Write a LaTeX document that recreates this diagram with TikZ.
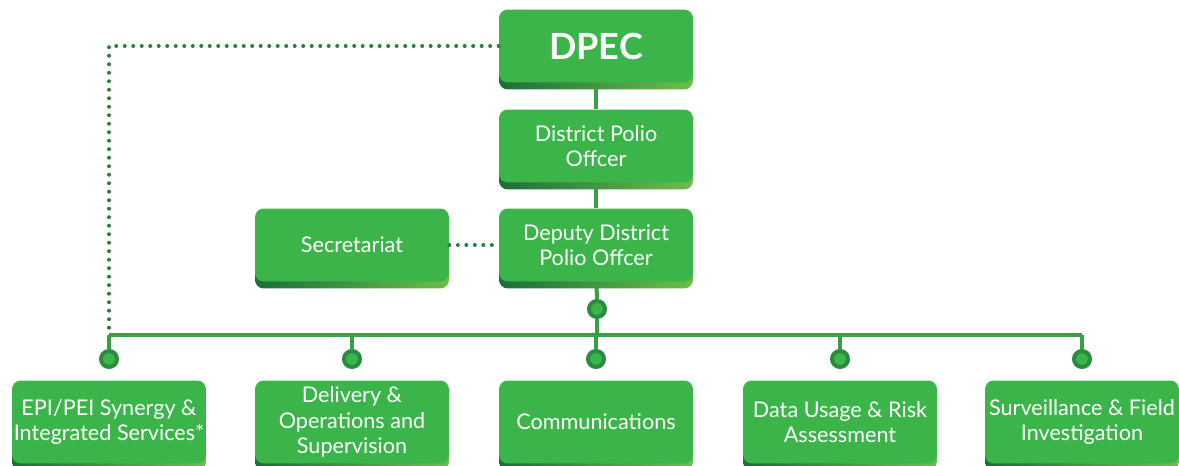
\documentclass[tikz,border=0pt]{standalone}
\usepackage{fontspec}
\setmainfont{Lato}
\usetikzlibrary{backgrounds,shadows}

\definecolor{boxgreen}{HTML}{3BB54A}
\definecolor{linegreen}{HTML}{3A9E48}
\definecolor{shadedark}{HTML}{1C6E3A}
\definecolor{shadelight}{HTML}{6DBE4B}
\definecolor{knobring}{HTML}{2A8A40}
\definecolor{dotgreen}{HTML}{2B7F40}

\tikzset{
  unit/.style={rounded corners=5pt, fill=boxgreen, text=white, align=center,
    minimum width=3.88cm, minimum height=1.46cm, inner xsep=0pt, inner ysep=2pt,
    font=\fontsize{12.3pt}{14.3pt}\selectfont,
    general shadow={shadow yshift=-0.14cm, left color=shadedark,
      right color=shadelight}},
  link/.style={linegreen, line width=0.08cm},
  dots/.style={dotgreen, line width=0.08cm, line cap=round,
    dash pattern=on 0pt off 0.17cm},
  knob/.style={circle, fill=boxgreen, draw=knobring, line width=0.08cm,
    minimum size=0.32cm, inner sep=0pt},
}

\begin{document}
\begin{tikzpicture}[x=0.02cm, y=-0.02cm]
	\useasboundingbox (0,0) rectangle (1179,466);

	% Cabeza
	\node[unit, font=\fontsize{20.5pt}{24pt}\selectfont\bfseries] (dpec) at (596,46) {DPEC};
	\node[unit] (dpo) at (596,146) {District Polio\\Offcer};
	\node[unit] (ddpo) at (596,245) {Deputy District\\Polio Offcer};
	\node[unit] (secr) at (352,245) {Secretariat};
	\node[knob] (hub) at (597,309) {};

	% Barra
	\coordinate (busL) at (109,335);
	\coordinate (busR) at (1082,335);

	% Unidades
	\node[unit, minimum height=1.66cm] (b1) at (109,422) {EPI/PEI Synergy \&\\Integrated Services*};
	\node[unit, minimum height=1.66cm] (b2) at (352,422) {Delivery \&\\Operations and\\Supervision};
	\node[unit, minimum height=1.66cm] (b3) at (596,422) {Communications};
	\node[unit, minimum height=1.66cm] (b4) at (840,422) {Data Usage \& Risk\\Assessment};
	\node[unit, minimum height=1.66cm] (b5) at (1082,422) {Surveillance \& Field\\Investigation};
	\node[knob] (k1) at (109,359) {};
	\node[knob] (k2) at (352,359) {};
	\node[knob] (k3) at (596,359) {};
	\node[knob] (k4) at (840,359) {};
	\node[knob] (k5) at (1082,359) {};

	% Lineas
	\begin{scope}[on background layer]
	    \draw[link] (dpec) -- (dpo);
	    \draw[link] (dpo) -- (ddpo);
	    \draw[link] (ddpo) -- (hub) -- (hub |- busL);
	    \draw[link] (busL) -- (busR);
	    \draw[link] (k1) -- (k1 |- busL);
	    \draw[link] (k2) -- (k2 |- busL);
	    \draw[link] (k3) -- (k3 |- busL);
	    \draw[link] (k4) -- (k4 |- busL);
	    \draw[link] (k5) -- (k5 |- busL);
	\end{scope}

	% Punteadas
	\coordinate (corner) at (dpec.west -| busL);
	\draw[dots] (dpec.west) -- (corner) -- (busL);
	\draw[dots] (secr) -- (ddpo);
    \end{tikzpicture}
\end{document}
